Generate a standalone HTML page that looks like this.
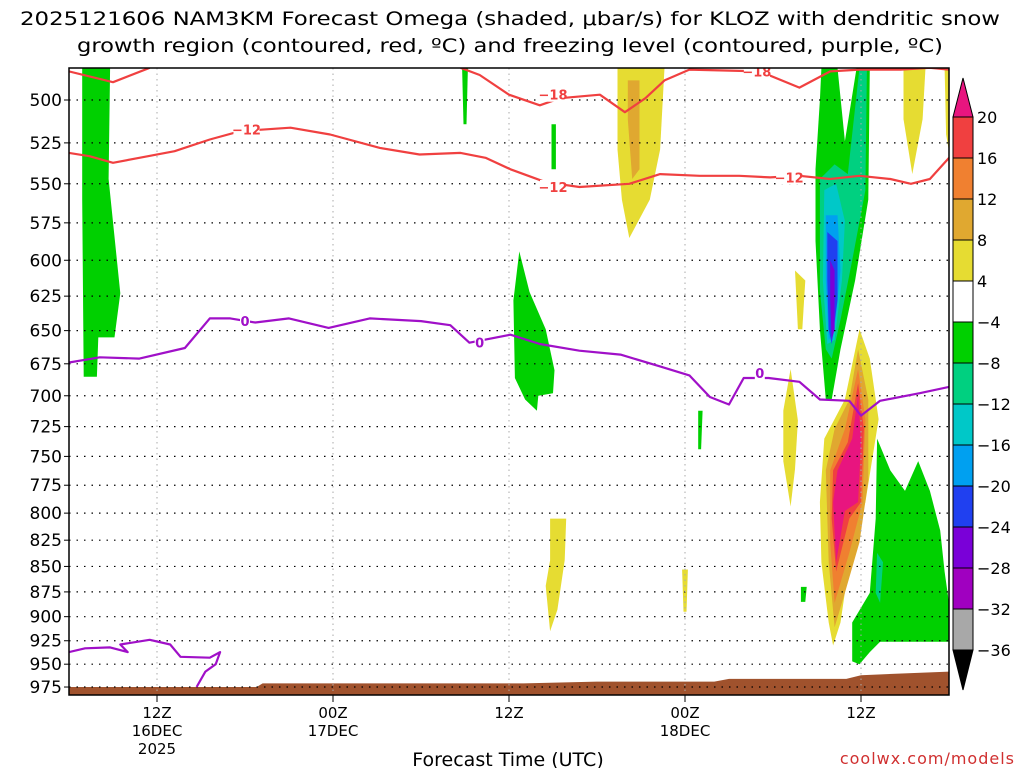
<!DOCTYPE html>
<html><head><meta charset="utf-8"><style>
body{margin:0;background:#fff;}
svg{display:block;font-family:"DejaVu Sans","Liberation Sans",sans-serif;}
</style></head><body>
<svg id="chart" width="1024" height="768" xmlns="http://www.w3.org/2000/svg">
<rect width="1024" height="768" fill="#fff"/>
<text x="20" y="25" font-size="19" textLength="980" lengthAdjust="spacingAndGlyphs">2025121606 NAM3KM Forecast Omega (shaded, μbar/s) for KLOZ with dendritic snow</text>
<text x="77" y="52" font-size="19" textLength="866" lengthAdjust="spacingAndGlyphs">growth region (contoured, red, ºC) and freezing level (contoured, purple, ºC)</text>
<g id="shade"></g>
<g id="terrain"></g>
<g id="grid"></g>
<g id="contours"></g>
<rect x="69" y="68" width="880" height="627" fill="none" stroke="#000" stroke-width="1.5"/>
<g id="yaxis"></g>
<g id="xaxis"></g>
<text x="508" y="766" font-size="19" text-anchor="middle">Forecast Time (UTC)</text>
<text x="1015" y="764" font-size="16" fill="#d03030" text-anchor="end" letter-spacing="1">coolwx.com/models</text>
<g id="cbar"></g>
</svg>
<script>
// ---- axes ----
const X0=69, PX_PER_H=880/60;
const pLevels=[500,525,550,575,600,625,650,675,700,725,750,775,800,825,850,875,900,925,950,975];
const timeTicksH=[6,18,30,42,54];
const timeLabels=[["12Z","16DEC","2025"],["00Z","17DEC"],["12Z"],["00Z","18DEC"],["12Z"]];
function xs(h){return X0+h*PX_PER_H;}
function ys(p){return 100+879*Math.log(p/500);}
// ---- contour data (hour, pressure hPa) ----
const m18aH=[0,3,5.5];
const m18aP=[484,490,482];
const m18bH=[26.7,28,30,32.1,33.5,36.2,37.9,39.3,40.6,42.3,47.1,49.8,51.9,53.9,56.7,58.7,60];
const m18bP=[482,486,497,503,499,497,507,499,489,483,484,493,484,483,483,482,483];
const m12H=[0,1.4,3,4.8,7.2,9.6,11.7,15.1,17.8,21.2,23.9,26.7,28.4,30.1,32.5,34.8,38.2,40.3,43,45.7,47.8,49.8,51.9,53.9,56,57.4,58.7,60];
const m12P=[531,533,537,534,530,523,518,516,520,528,532,531,534,541,549,552,550,544,545,545,546,545,547,545,547,550,547,534];
const frzH=[0,2.1,4.8,7.9,9.6,11,12.7,15,17.7,20.5,24,26,27.3,30.1,32.1,34.8,37.6,40.3,42.3,43.7,45,46,47.7,49.8,51.2,53.2,54,55.3,58,60];
const frzP=[674,670,671,663,641,641,644,641,648,641,643,646,659,653,660,665,668,677,684,701,707,686,686,689,703,704,716,704,698,693];
const frzLowH=[0,1.1,2.8,4,3.5,5.5,6.9,7.6,9.6,10.3,10,9.3,8.7];
const frzLowP=[937,933,932,937,929,924,929,942,943,937,950,958,975];
// terrain top pressure by hour
const terH=[0,6,12.8,13.2,24,31,36,44,45,53,54,60];
const terP=[975,975,975,971,971,971,969,969,966,966,962,958];
// ---- shading blobs: [level, hours[], pressures[]] ----
const blobs=[
 [-6,[0.9,2.8,2.7,3.5,3.1,2.0,1.9,1.0,0.9],[482,482,547,623,655,655,685,685,560]],
 [-6,[26.8,27.2,27.1,26.9],[482,482,514,514]],
 [-6,[32.9,33.2,33.2,32.9],[514,514,541,541]],
 [-6,[30.7,31.4,32.5,33.1,33.0,32.0,31.9,31.1,30.4,30.3],[594,622,649,680,698,700,712,703,686,628]],
 [6,[37.4,40.6,40.3,39.6,38.2,37.7,37.4],[482,482,529,560,585,560,529]],
 [10,[38.1,38.9,38.9,38.4,38.1],[489,489,541,547,511]],
 [-6,[42.9,43.2,43.1,42.9],[712,712,744,744]],
 [6,[41.8,42.2,42.1,41.9],[853,853,895,895]],
 [6,[32.8,33.9,33.8,33.3,32.8,32.5,32.8],[805,805,844,893,915,869,844]],
 [6,[49.2,49.7,49.5,49.2,48.7,48.7],[679,720,761,794,754,712]],
 [6,[49.5,50.2,50.0,49.7],[607,614,649,649]],
 [-6,[49.9,50.3,50.2,49.9],[870,870,885,885]],
 [6,[56.9,58.4,58.2,57.5,56.9],[482,482,511,544,511]],
 [6,[59.7,60,60,59.8],[482,482,530,520]],
 [-6,[51.3,52.4,52.9,53.7,54.6,54.5,53.6,52.6,52.0,51.6,51.2,50.9,50.9,51.2],[482,482,524,482,482,560,614,664,703,703,649,587,541,500]],
 [-10,[51.2,52.2,53.1,53.9,54.4,54.3,53.4,52.6,52.0,51.6,51.2],[547,538,544,482,482,554,600,642,671,664,621]],
 [-14,[51.5,52.3,52.9,52.7,52.2,51.7,51.4],[554,550,574,614,657,660,614]],
 [-18,[51.6,52.4,52.6,52.2,51.8,51.6],[570,570,607,649,657,614]],
 [-22,[51.7,52.4,52.4,52.0,51.8,51.7],[581,587,628,660,649,614]],
 [-26,[51.9,52.2,52.2,52.0,51.9],[600,607,649,657,628]],
 [6,[53.9,54.6,55.2,54.3,53.2,52.6,52.1,51.8,51.3,51.2,51.5,52.9],[649,671,719,790,846,906,930,906,846,790,735,703]],
 [10,[53.8,54.5,54.5,53.9,52.9,52.2,51.8,51.6,52.2,53.2],[664,703,771,827,876,911,846,762,727,703]],
 [14,[53.8,54.3,54.1,53.2,52.2,51.9,51.9,52.9],[679,719,790,837,886,827,762,727]],
 [18,[53.8,54.2,54.0,53.2,52.3,52.0,52.1,53.1],[690,727,790,805,855,805,762,738]],
 [22,[53.8,54.0,53.8,52.9,52.3,52.1,52.4,53.4],[699,738,790,798,846,790,762,735]],
 [-6,[55.1,56.0,57.0,57.9,58.7,59.4,59.7,60,60,56.7,55.3,54.6,53.9,53.4,53.4,54.6,55.0],[735,762,780,754,780,816,855,886,926,926,926,937,950,947,906,876,805]],
 [-10,[55.1,55.5,55.3,55.0],[837,846,886,876]]
];
// ---- colorbar ----
const cbLevels=[20,16,12,8,4,-4,-8,-12,-16,-20,-24,-28,-32,-36];
const cbColors=["#f04040","#f08030","#e0a830","#e6dc32","#ffffff","#00d000","#00d080","#00c8c8","#00a0f0","#2040f0","#7a00d8","#a000c0","#a8a8a8"];
const cbHigh="#e8157f", cbLow="#000000";
function colorFor(v){
 if(v>cbLevels[0])return cbHigh;
 for(let i=0;i<cbLevels.length-1;i++){if(v<=cbLevels[i]&&v>cbLevels[i+1])return cbColors[i];}
 return cbLow;
}
const NS="http://www.w3.org/2000/svg";
function mk(tag,attrs,parent){const e=document.createElementNS(NS,tag);for(const k in attrs)e.setAttribute(k,attrs[k]);parent.appendChild(e);return e;}
function pts(H,P){return H.map((h,i)=>xs(h).toFixed(1)+","+ys(P[i]).toFixed(1)).join(" ");}
const defs=mk("defs",{},document.getElementById("chart"));
const cp=mk("clipPath",{id:"pc"},defs);mk("rect",{x:69,y:68,width:880,height:627},cp);
const shade=document.getElementById("shade");shade.setAttribute("clip-path","url(#pc)");
blobs.forEach((b,i)=>{
 const e=mk("polygon",{points:pts(b[1],b[2]),fill:colorFor(b[0]),"stroke-linejoin":"round"},shade);
 
 
});
const ter=document.getElementById("terrain");ter.setAttribute("clip-path","url(#pc)");
{let s="";terH.forEach((h,i)=>{s+=xs(h).toFixed(1)+","+ys(terP[i]).toFixed(1)+" ";});
 s+=xs(60)+",700 "+xs(0)+",700";
 const e=mk("polygon",{points:s,fill:"#a0522d"},ter);
 
 }
const grid=document.getElementById("grid");
pLevels.forEach(p=>{const e=mk("line",{x1:69,x2:949,y1:ys(p),y2:ys(p),stroke:"#000","stroke-width":1.2,"stroke-dasharray":"1.5,6"},grid);
 
 });
timeTicksH.forEach(h=>{const e=mk("line",{x1:xs(h),x2:xs(h),y1:68,y2:695,stroke:"#aaa","stroke-width":1,"stroke-dasharray":"1.5,4"},grid);
 
 });
const con=document.getElementById("contours");con.setAttribute("clip-path","url(#pc)");
function line(H,P,col,name){const e=mk("polyline",{points:pts(H,P),fill:"none",stroke:col,"stroke-width":2.2,"stroke-linejoin":"round"},con);
 
 }
line(m18aH,m18aP,"#f04040","contour-minus18-a");
line(m18bH,m18bP,"#f04040","contour-minus18-b");
line(m12H,m12P,"#f04040","contour-minus12");
line(frzH,frzP,"#a010c8","freezing-level");
line(frzLowH,frzLowP,"#a010c8","freezing-level-low");
function clabel(h,p,t,col,name){
 const x=xs(h),y=ys(p);
 const w=t.length*8+2;
 const r=mk("rect",{x:x-w/2,y:y-7,width:w,height:14,fill:"#fff"},con);
 
 
 const e=mk("text",{x:x,y:y+5,"font-size":13,"font-weight":"bold",fill:col,"text-anchor":"middle"},con);e.textContent=t;
 
 }
clabel(33.0,497,"−18","#f04040","label-minus18-a");
clabel(46.9,484,"−18","#f04040","label-minus18-b");
clabel(12.1,517,"−12","#f04040","label-minus12-a");
clabel(33.0,552,"−12","#f04040","label-minus12-b");
clabel(49.1,546,"−12","#f04040","label-minus12-c");
clabel(12.0,643,"0","#a010c8","label-zero-a");
clabel(28.0,659,"0","#a010c8","label-zero-b");
clabel(47.1,682,"0","#a010c8","label-zero-c");
const ya=document.getElementById("yaxis");
pLevels.forEach(p=>{
 const t=mk("text",{x:62,y:ys(p)+6,"font-size":17,"text-anchor":"end"},ya);t.textContent=p;
 
 
 const l=mk("line",{x1:64,x2:69,y1:ys(p),y2:ys(p),stroke:"#000"},ya);
 
 });
const xa=document.getElementById("xaxis");
timeTicksH.forEach((h,i)=>{
 const l=mk("line",{x1:xs(h),x2:xs(h),y1:695,y2:702,stroke:"#000"},xa);
 
 
 timeLabels[i].forEach((s,j)=>{const t=mk("text",{x:xs(h),y:718+j*18,"font-size":15,"text-anchor":"middle"},xa);t.textContent=s;
  
  });});
const cb=document.getElementById("cbar");
const CBX=953,CBW=20,CBTOP=117,CBSTEP=41;
function cby(i){return CBTOP+i*CBSTEP;}
{const e=mk("polygon",{points:`${CBX},${cby(0)} ${CBX+CBW/2},78 ${CBX+CBW},${cby(0)}`,fill:cbHigh,stroke:"#000"},cb);
 
 }
cbColors.forEach((c,i)=>{const e=mk("rect",{x:CBX,y:cby(i),width:CBW,height:CBSTEP,fill:c,stroke:"#000"},cb);
 
 });
{const n=cbLevels.length-1;const e=mk("polygon",{points:`${CBX},${cby(n)} ${CBX+CBW/2},690 ${CBX+CBW},${cby(n)}`,fill:cbLow,stroke:"#000"},cb);
 
 }
cbLevels.forEach((v,i)=>{const t=mk("text",{x:977,y:cby(i)+6,"font-size":16},cb);t.textContent=(v<0?"−":"")+Math.abs(v);
 
 });
</script>
</body></html>
